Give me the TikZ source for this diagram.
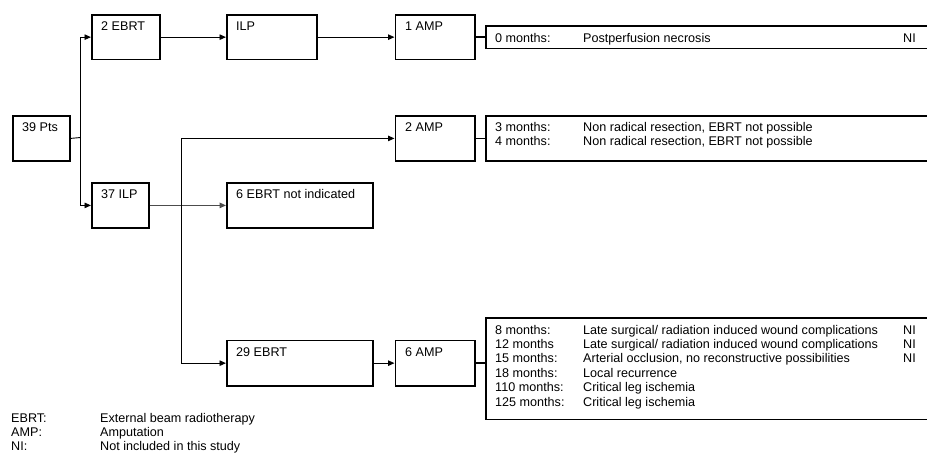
\documentclass[tikz,border=0pt]{standalone}
\usepackage{fontspec}
\setmainfont{Liberation Sans}
\usetikzlibrary{arrows.meta}
\newcommand\myfs{\fontsize{12.6}{14.4}\selectfont}
\begin{document}
\begin{tikzpicture}[x=1pt,y=-1pt,
  box/.style={draw, line width=1.8pt, rectangle, anchor=north west, inner sep=0pt},
  lbl/.style={anchor=base west, inner sep=0pt, font=\myfs},
  conn/.style={line width=0.9pt},
  thickconn/.style={line width=1.8pt},
  arr/.style={conn, -{Triangle[length=6.5pt,width=5.5pt]}},
]
\clip (0,0) rectangle (927,453);
\fill[white] (0,0) rectangle (927,453);

% process boxes
\node[box, minimum width=57pt, minimum height=45pt] (pts) at (12,115) {};
\node[box, minimum width=68pt, minimum height=44.5pt] (ebrt2) at (91,14) {};
\node[box, minimum width=90pt, minimum height=44.5pt] (ilp) at (226,14) {};
\node[box, minimum width=79.5pt, minimum height=44.5pt] (amp1) at (394.5,14) {};
\node[box, minimum width=79.5pt, minimum height=45pt] (amp2) at (394.5,115) {};
\node[box, minimum width=57pt, minimum height=45pt] (ilp37) at (91,182) {};
\node[box, minimum width=146pt, minimum height=45pt] (ebrt6) at (226,182) {};
\node[box, minimum width=146pt, minimum height=45.5pt] (ebrt29) at (226,339.5) {};
\node[box, minimum width=79.5pt, minimum height=45.5pt] (amp6) at (394.5,339.5) {};

% result boxes (run past the right edge)
\node[box, minimum width=460pt, minimum height=22.5pt] (res1) at (485,25) {};
\node[box, minimum width=460pt, minimum height=45pt] (res2) at (485,115) {};
\node[box, minimum width=460pt, minimum height=101.5pt] (res3) at (485,317) {};

% box labels
\node[lbl] (tpts) at (22,131.5) {39 Pts};
\node[lbl] (tebrt2) at (101,30.5) {2 EBRT};
\node[lbl] (tilp) at (236,30.5) {ILP};
\node[lbl] (tamp1) at (405,30.5) {1 AMP};
\node[lbl] (tamp2) at (405,131.5) {2 AMP};
\node[lbl] (tilp37) at (101,198.5) {37 ILP};
\node[lbl] (tebrt6) at (236,198.5) {6 EBRT not indicated};
\node[lbl] (tebrt29) at (236,356) {29 EBRT};
\node[lbl] (tamp6) at (405,356) {6 AMP};

% result texts
\node[lbl] (r1m) at (495,42.5) {0 months:};
\node[lbl] (r1d) at (583,42.5) {Postperfusion necrosis};
\node[lbl] (r1n) at (903,42.5) {NI};

\node[lbl] (r2m1) at (495,131) {3 months:};
\node[lbl] (r2d1) at (583,131) {Non radical resection, EBRT not possible};
\node[lbl] (r2m2) at (495,145) {4 months:};
\node[lbl] (r2d2) at (583,145) {Non radical resection, EBRT not possible};

\foreach \i/\m/\d/\n in {0/8 months:/Late surgical\slash{} radiation induced wound complications/NI,
                         1/12 months/Late surgical\slash{} radiation induced wound complications/NI,
                         2/15 months:/{Arterial occlusion, no reconstructive possibilities}/NI,
                         3/18 months:/Local recurrence/,
                         4/110 months:/Critical leg ischemia/,
                         5/125 months:/Critical leg ischemia/}{
  \node[lbl] (r3m\i) at (495,334+14.4*\i) {\m};
  \node[lbl] (r3d\i) at (583,334+14.4*\i) {\d};
  \node[lbl] (r3n\i) at (903,334+14.4*\i) {\n};
}

% legend
\node[lbl] (l1a) at (11,422.5) {EBRT:};
\node[lbl] (l1b) at (100,422.5) {External beam radiotherapy};
\node[lbl] (l2a) at (11,436.5) {AMP:};
\node[lbl] (l2b) at (100,436.5) {Amputation};
\node[lbl] (l3a) at (11,450.5) {NI:};
\node[lbl] (l3b) at (100,450.5) {Not included in this study};

% connectors
\draw[conn] (pts.east) -- (80.5,137.5) coordinate (j);
\draw[arr] (j) |- (ebrt2.west);
\draw[arr] (j) |- (ilp37.west);
\draw[arr] (ebrt2.east) -- (ilp.west);
\draw[arr] (ilp.east) -- (amp1.west);
\draw[thickconn] (amp1.east) -- (amp1.east -| res1.west);
\draw[arr, black!70, line width=1.3pt] (ilp37.east) -- (ebrt6.west);
\coordinate (k) at (181.3,204.5);
\draw[arr] (k) |- (amp2.west);
\draw[arr] (k) |- (ebrt29.west);
\draw[thickconn] (amp2.east) -- (amp2.east -| res2.west);
\draw[arr] (ebrt29.east) -- (amp6.west);
\draw[thickconn] (amp6.east) -- (amp6.east -| res3.west);
\end{tikzpicture}
\end{document}
